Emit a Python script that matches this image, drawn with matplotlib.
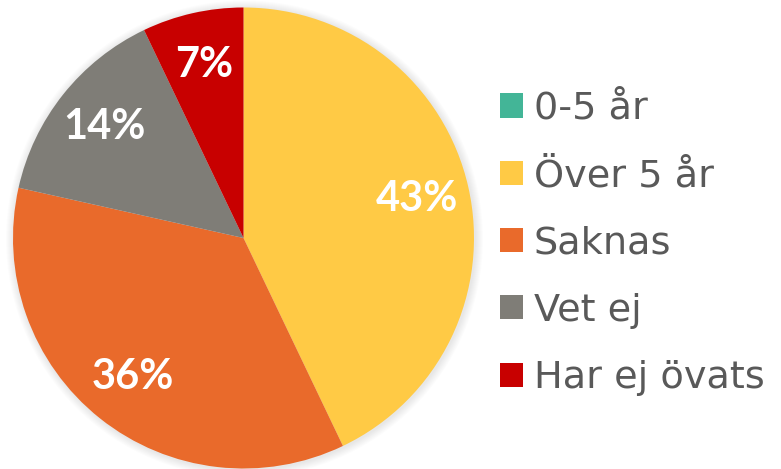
import matplotlib

matplotlib.use("Agg")
import matplotlib.pyplot as plt
from matplotlib.patches import Circle

categories = ["0-5 år", "Över 5 år", "Saknas", "Vet ej", "Har ej övats"]
shares = [0.0, 42.9, 35.6, 14.4, 7.1]
colors = ["#43B597", "#FFCA45", "#E96A2B", "#7F7D77", "#C80000"]

W, H = 781, 469
cx, cy, r = 243.5, H - 238.0, 230.5

fig = plt.figure(figsize=(W / 100, H / 100), dpi=100)
ax = fig.add_axes([0, 0, 1, 1])

# soft shadow behind the pie
for i in range(8):
    ax.add_patch(Circle((cx + 1, cy - 1), r + 8 - i, color="black", alpha=0.012, lw=0, zorder=0))


def pct_label(p):
    return f"{p:.0f}%" if p >= 1 else ""


wedges, _, autotexts = ax.pie(
    shares,
    colors=colors,
    startangle=90,
    counterclock=False,
    center=(cx, cy),
    radius=r,
    autopct=pct_label,
    pctdistance=0.77,
    wedgeprops={"linewidth": 0},
    textprops={"color": "white", "fontsize": 30, "fontweight": "bold", "family": ["Lato", "DejaVu Sans"]},
    frame=True,
)
ax.set_xlim(0, W)
ax.set_ylim(0, H)
ax.axis("off")

leg = ax.legend(
    wedges,
    categories,
    loc="center left",
    bbox_to_anchor=(500 / W, 0.5 - 9 / H),
    frameon=False,
    fontsize=27.5,
    handlelength=0.6,
    handleheight=0.6,
    handletextpad=0.28,
    labelspacing=0.82,
    borderpad=0,
    borderaxespad=0,
)
for t in leg.get_texts():
    t.set_color("#595959")

fig.savefig("out.png", dpi=100)
